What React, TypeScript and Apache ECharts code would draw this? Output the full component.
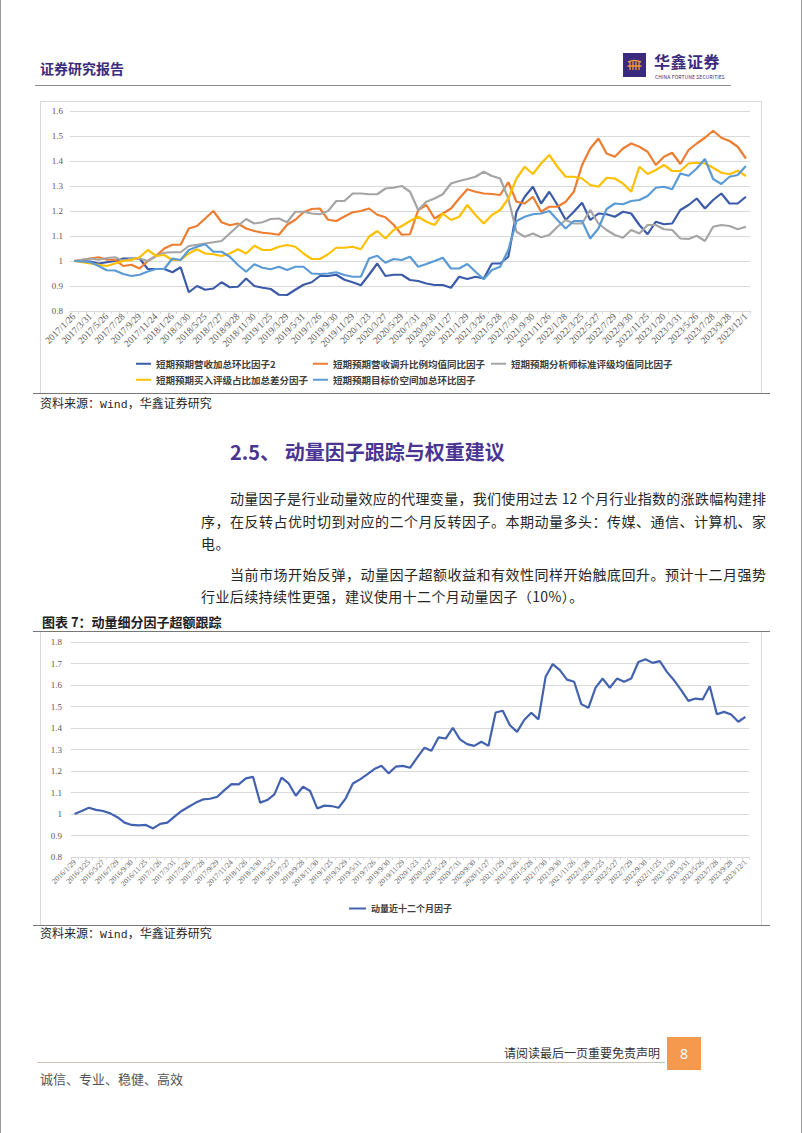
import React, { useEffect, useRef } from "react";
import * as echarts from "echarts";

// ---------- data ----------
const DATES = [
  "2016/1/29","2016/2/29","2016/3/25","2016/4/29","2016/5/27","2016/6/30","2016/7/29","2016/8/31","2016/9/30","2016/10/28","2016/11/25","2016/12/30",
  "2017/1/26","2017/2/28","2017/3/31","2017/4/28","2017/5/26","2017/6/30","2017/7/28","2017/8/31","2017/9/29","2017/10/31","2017/11/24","2017/12/29",
  "2018/1/26","2018/2/28","2018/3/30","2018/4/27","2018/5/25","2018/6/29","2018/7/27","2018/8/31","2018/9/28","2018/10/31","2018/11/30","2018/12/28",
  "2019/1/25","2019/2/28","2019/3/29","2019/4/30","2019/5/31","2019/6/28","2019/7/26","2019/8/30","2019/9/30","2019/10/31","2019/11/29","2019/12/31",
  "2020/1/23","2020/2/28","2020/3/27","2020/4/30","2020/5/29","2020/6/30","2020/7/31","2020/8/31","2020/9/30","2020/10/30","2020/11/27","2020/12/31",
  "2021/1/29","2021/2/26","2021/3/26","2021/4/30","2021/5/28","2021/6/30","2021/7/30","2021/8/31","2021/9/30","2021/10/29","2021/11/26","2021/12/31",
  "2022/1/28","2022/2/28","2022/3/25","2022/4/29","2022/5/27","2022/6/30","2022/7/29","2022/8/31","2022/9/30","2022/10/31","2022/11/25","2022/12/30",
  "2023/1/20","2023/2/28","2023/3/31","2023/4/28","2023/5/26","2023/6/30","2023/7/28","2023/8/31","2023/9/28","2023/10/31","2023/12/1",
];
const TOP_CATEGORIES = DATES.slice(12);

const NAME1 = "短期预期营收加总环比因子2";
const NAME2 = "短期预期营收调升比例均值同比因子";
const NAME3 = "短期预期分析师标准评级均值同比因子";
const NAME4 = "短期预期买入评级占比加总差分因子";
const NAME5 = "短期预期目标价空间加总环比因子";
const MOM_NAME = "动量近十二个月因子";

const S1 = [
  1.0, 1.0, 0.998, 0.99, 0.995, 1.0, 1.01, 1.01, 1.01, 0.968,
  0.968, 0.968, 0.955, 0.975, 0.875, 0.9, 0.885, 0.89, 0.915, 0.895,
  0.897, 0.93, 0.9, 0.893, 0.888, 0.865, 0.864, 0.885, 0.905, 0.915,
  0.94, 0.94, 0.945, 0.925, 0.915, 0.903, 0.945, 0.99, 0.94, 0.945,
  0.945, 0.924, 0.92, 0.91, 0.904, 0.904, 0.893, 0.937, 0.928, 0.937,
  0.93, 0.99, 0.99, 1.017, 1.197, 1.257, 1.297, 1.23, 1.277, 1.224,
  1.164, 1.197, 1.233, 1.164, 1.19, 1.187, 1.177, 1.197, 1.19, 1.144,
  1.107, 1.157, 1.147, 1.15, 1.204, 1.224, 1.25, 1.21, 1.244, 1.27,
  1.23, 1.23, 1.257,
];
const S2 = [
  1.0, 1.005, 1.01, 1.015, 1.005, 1.005, 0.98, 0.985, 0.97,
  1.0, 1.02, 1.05, 1.065, 1.065, 1.13, 1.14, 1.17, 1.2, 1.155, 1.143,
  1.15, 1.13, 1.12, 1.113, 1.11, 1.105, 1.145, 1.165, 1.195, 1.208,
  1.21, 1.165, 1.16, 1.178, 1.195, 1.2, 1.21, 1.185, 1.175, 1.145,
  1.105, 1.107,
  1.204, 1.224, 1.17, 1.19, 1.21, 1.25, 1.287, 1.277, 1.27, 1.268,
  1.264, 1.315, 1.237, 1.23, 1.257, 1.197, 1.217, 1.217, 1.237, 1.277,
  1.384, 1.45, 1.49, 1.43, 1.417, 1.45, 1.47, 1.457, 1.437, 1.384,
  1.417, 1.433, 1.388, 1.444, 1.47, 1.493, 1.521, 1.493, 1.48, 1.457,
  1.41,
];
const S3 = [
  1.0, 1.005, 1.01, 1.005, 1.012, 1.015, 1.0, 1.01, 1.01, 1.0,
  1.02, 1.033, 1.035, 1.035, 1.06, 1.065, 1.07, 1.075, 1.08, 1.11,
  1.14, 1.168, 1.15, 1.155, 1.168, 1.17, 1.155, 1.197, 1.197, 1.19,
  1.187, 1.2, 1.24, 1.24, 1.27, 1.27, 1.267, 1.267, 1.29, 1.293,
  1.3, 1.277,
  1.204, 1.237, 1.25, 1.267, 1.31, 1.32, 1.328, 1.337, 1.357, 1.34,
  1.33, 1.25, 1.117, 1.097, 1.11, 1.095, 1.104, 1.137, 1.164, 1.15,
  1.15, 1.204, 1.15, 1.124, 1.104, 1.093, 1.124, 1.11, 1.144, 1.144,
  1.127, 1.124, 1.09, 1.088, 1.101, 1.08, 1.137, 1.144, 1.14, 1.127,
  1.137,
];
const S4 = [
  1.0, 0.995, 0.99, 0.985, 0.98, 0.99, 1.0, 1.004, 1.015, 1.044,
  1.02, 1.024, 1.004, 1.004, 1.03, 1.047, 1.03, 1.027, 1.02, 1.03,
  1.047, 1.03, 1.061, 1.044, 1.044, 1.057, 1.064, 1.057, 1.03, 1.008,
  1.008, 1.027, 1.053, 1.053, 1.057, 1.047, 1.097, 1.12, 1.09, 1.124,
  1.14, 1.16,
  1.177, 1.157, 1.144, 1.19, 1.164, 1.177, 1.224, 1.184, 1.15, 1.184,
  1.204, 1.25, 1.33, 1.377, 1.348, 1.39, 1.424, 1.377, 1.337, 1.337,
  1.33, 1.304, 1.297, 1.333, 1.33, 1.31, 1.277, 1.377, 1.348, 1.364,
  1.384, 1.36, 1.36, 1.39, 1.393, 1.39, 1.373, 1.353, 1.347, 1.361,
  1.34,
];
const S5 = [
  1.0, 0.998, 0.995, 0.98, 0.963, 0.962, 0.948, 0.94, 0.945, 0.958,
  0.968, 0.968, 1.01, 1.004, 1.044, 1.057, 1.067, 1.037, 1.037, 1.017,
  0.984, 0.957, 0.987, 0.973, 0.967, 0.977, 0.964, 0.977, 0.977, 0.95,
  0.948, 0.95, 0.955, 0.944, 0.937, 0.937, 1.01, 1.021, 0.993, 1.008,
  1.004, 1.017,
  0.977, 0.988, 1.0, 1.013, 0.97, 0.97, 0.988, 0.957, 0.927, 0.964,
  0.977, 1.044, 1.16, 1.177, 1.187, 1.19, 1.2, 1.164, 1.13, 1.16,
  1.16, 1.09, 1.13, 1.208, 1.23, 1.227, 1.24, 1.244, 1.26, 1.293,
  1.297, 1.287, 1.35, 1.341, 1.37, 1.408, 1.328, 1.308, 1.337, 1.344,
  1.38,
];
const MOM = [
  1.0, 1.014, 1.029, 1.019, 1.014, 1.003, 0.985, 0.96, 0.949, 0.947,
  0.949, 0.933, 0.954, 0.96, 0.988, 1.014, 1.034, 1.053, 1.068, 1.071,
  1.08, 1.111, 1.139, 1.138, 1.166, 1.173, 1.053, 1.065, 1.091, 1.169,
  1.142, 1.085, 1.127, 1.107, 1.026, 1.039, 1.037, 1.029, 1.073, 1.142,
  1.161, 1.184, 1.209, 1.224, 1.189, 1.22, 1.224, 1.215, 1.262, 1.308,
  1.294, 1.356, 1.351, 1.401, 1.347, 1.325, 1.317, 1.336, 1.317, 1.472,
  1.48, 1.413, 1.382, 1.437, 1.471, 1.44, 1.638, 1.697, 1.669, 1.625,
  1.615, 1.511, 1.494, 1.588, 1.63, 1.587, 1.63, 1.615, 1.63, 1.707,
  1.72, 1.703, 1.711, 1.661, 1.622, 1.576, 1.526, 1.537, 1.533, 1.594,
  1.464, 1.475, 1.463, 1.429, 1.452,
];

// ---------- styles ----------
const CJK = "'Noto Sans CJK SC', 'Noto Sans', sans-serif";
const SERIF = "'Liberation Serif', 'DejaVu Serif', serif";
const MONO = "'Liberation Mono', 'DejaVu Sans Mono', monospace";
const GRID_COLOR = "#d9d9d9";
const LABEL_COLOR = "#595959";
const PURPLE = "#3b2b7e";

const COLORS = ["#3b5ba9", "#ed7d31", "#a5a5a5", "#ffc000", "#5b9bd5"];

function lineSeries(name: string, data: number[], color: string) {
  return {
    name,
    type: "line",
    data,
    symbol: "none",
    lineStyle: { color, width: 2.2 },
    itemStyle: { color },
  };
}

function legendAt(name: string, left: number, top: number, fontSize: number, w: number) {
  return {
    data: [name],
    left,
    top,
    padding: 0,
    icon: "rect",
    itemWidth: w,
    itemHeight: 2,
    textStyle: { fontSize, fontWeight: "bold", color: "#404040", fontFamily: CJK },
  };
}

const topOption = {
  animation: false,
  grid: { left: 30, right: 12, top: 10, bottom: 82 },
  xAxis: {
    type: "category",
    data: TOP_CATEGORIES,
    boundaryGap: true,
    axisLine: { lineStyle: { color: GRID_COLOR } },
    axisTick: { show: true, interval: 0, length: 3, lineStyle: { color: GRID_COLOR } },
    axisLabel: { interval: 1, rotate: 45, fontSize: 9.5, fontFamily: SERIF, color: LABEL_COLOR, margin: 4 },
  },
  yAxis: {
    type: "value",
    min: 0.8,
    max: 1.6,
    interval: 0.1,
    axisLine: { show: false },
    axisTick: { show: false },
    axisLabel: { fontSize: 9, fontFamily: SERIF, color: LABEL_COLOR, margin: 7 },
    splitLine: { lineStyle: { color: GRID_COLOR } },
  },
  legend: [
    legendAt(NAME1, 96, 258, 9.5, 15),
    legendAt(NAME2, 273, 258, 9.5, 15),
    legendAt(NAME3, 451, 258, 9.5, 15),
    legendAt(NAME4, 96, 274, 9.5, 15),
    legendAt(NAME5, 273, 274, 9.5, 15),
  ],
  series: [
    lineSeries(NAME1, S1, COLORS[0]),
    lineSeries(NAME2, S2, COLORS[1]),
    lineSeries(NAME3, S3, COLORS[2]),
    lineSeries(NAME4, S4, COLORS[3]),
    lineSeries(NAME5, S5, COLORS[4]),
  ],
};

const bottomOption = {
  animation: false,
  grid: { left: 31, right: 13, top: 10, bottom: 68 },
  xAxis: {
    type: "category",
    data: DATES,
    boundaryGap: true,
    axisLine: { lineStyle: { color: GRID_COLOR } },
    axisTick: { show: true, interval: 0, length: 3, lineStyle: { color: GRID_COLOR } },
    axisLabel: { interval: 1, rotate: 45, fontSize: 7.5, fontFamily: SERIF, color: LABEL_COLOR, margin: 4 },
  },
  yAxis: {
    type: "value",
    min: 0.8,
    max: 1.8,
    interval: 0.1,
    axisLine: { show: false },
    axisTick: { show: false },
    axisLabel: { fontSize: 9, fontFamily: SERIF, color: LABEL_COLOR, margin: 9 },
    splitLine: { lineStyle: { color: GRID_COLOR } },
  },
  legend: [legendAt(MOM_NAME, 309, 272, 9, 17)],
  series: [lineSeries(MOM_NAME, MOM, "#4262b0")],
};

function Chart({ option, left, top, width, height }: any) {
  const ref = useRef<HTMLDivElement>(null);
  useEffect(() => {
    const chart = echarts.init(ref.current as HTMLDivElement, undefined, { renderer: "svg" });
    chart.setOption(option as any);
    return () => chart.dispose();
  }, []);
  return <div ref={ref} style={{ position: "absolute", left, top, width, height }} />;
}

function T({ x, y, size, children, color = "#222", weight = 400, style = {}, lh }: any) {
  const h = lh ?? Math.round(size * 1.5);
  return (
    <div
      style={{
        position: "absolute",
        left: x,
        top: y - h / 2,
        height: h,
        lineHeight: h + "px",
        fontSize: size,
        color,
        fontWeight: weight,
        fontFamily: CJK,
        whiteSpace: "nowrap",
        ...style,
      }}
    >
      {children}
    </div>
  );
}

function Rule({ x, y, w, h = 1, color }: any) {
  return <div style={{ position: "absolute", left: x, top: y, width: w, height: h, background: color }} />;
}

function JLine({ x, y, w, children, justify = true }: any) {
  return (
    <T
      x={x}
      y={y}
      size={14}
      color="#262626"
      style={
        justify
          ? { width: w, textAlign: "justify", textAlignLast: "justify" }
          : { letterSpacing: "0.4px" }
      }
    >
      {children}
    </T>
  );
}

function Source({ y }: any) {
  return (
    <T x={40} y={y} size={12} color="#262626">
      资料来源：<span style={{ fontFamily: MONO, fontSize: 11.5 }}>Wind</span>，华鑫证券研究
    </T>
  );
}

export default function App() {
  return (
    <div
      style={{
        position: "absolute",
        left: 0,
        top: 0,
        width: 802,
        height: 1133,
        background: "#fff",
        overflow: "hidden",
        fontFamily: CJK,
      }}
    >
      {/* page edges */}
      <Rule x={0} y={0} w={1} h={1133} color="#9a9a9a" />
      <Rule x={801} y={0} w={1} h={1133} color="#9a9a9a" />

      {/* header */}
      <T x={40} y={68} size={14} color={PURPLE} weight={700}>证券研究报告</T>
      <Rule x={35} y={85} w={696} h={1} color="#8a8a8a" />
      <div style={{ position: "absolute", left: 623, top: 53, width: 23, height: 24, background: PURPLE }}>
        <svg width="23" height="24" viewBox="0 0 23 24">
          <path d="M5 9 Q11.5 6 18 9" stroke="#f29a3a" strokeWidth="1.4" fill="none" />
          <path d="M7 9 V17 M10 8.5 V17 M13 8.5 V17 M16 9 V17 M4.5 13 H18.5" stroke="#f29a3a" strokeWidth="1.3" fill="none" />
        </svg>
      </div>
      <T x={654} y={60.5} size={16} lh={16} color={PURPLE} weight={700} style={{ letterSpacing: "0.5px" }}>华鑫证券</T>
      <T x={655} y={76.5} size={5} lh={5} color={PURPLE} style={{ letterSpacing: "0.1px" }}>CHINA FORTUNE SECURITIES</T>

      {/* top chart */}
      <Chart option={topOption} left={40} top={101} width={722} height={292} />
      <div
        style={{
          position: "absolute",
          left: 40,
          top: 101,
          width: 720,
          height: 292,
          borderLeft: "1px solid #d9d9d9",
          borderTop: "1px solid #d9d9d9",
          borderRight: "1px solid #d9d9d9",
          pointerEvents: "none",
        }}
      />
      <Rule x={33} y={392.5} w={737} h={1.5} color="#777" />
      <Source y={403} />

      {/* section text */}
      <T x={230} y={452} size={20} color="#4a3592" weight={700}>2.5、 动量因子跟踪与权重建议</T>
      <JLine x={230} y={498} w={536}>动量因子是行业动量效应的代理变量，我们使用过去 12 个月行业指数的涨跌幅构建排</JLine>
      <JLine x={201} y={521} w={565}>序，在反转占优时切到对应的二个月反转因子。本期动量多头：传媒、通信、计算机、家</JLine>
      <JLine x={201} y={543} justify={false}>电。</JLine>
      <JLine x={230} y={574} w={536}>当前市场开始反弹，动量因子超额收益和有效性同样开始触底回升。预计十二月强势</JLine>
      <JLine x={201} y={596} justify={false}>行业后续持续性更强，建议使用十二个月动量因子（10%）。</JLine>

      {/* bottom chart */}
      <T x={42} y={622} size={13} color="#222" weight={700}>图表 7：动量细分因子超额跟踪</T>
      <Chart option={bottomOption} left={40} top={632} width={722} height={293} />
      <div
        style={{
          position: "absolute",
          left: 40,
          top: 632,
          width: 720,
          height: 293,
          borderLeft: "1px solid #d9d9d9",
          borderRight: "1px solid #d9d9d9",
          pointerEvents: "none",
        }}
      />
      <Rule x={33} y={630.5} w={737} h={1.5} color="#777" />
      <Rule x={33} y={924.5} w={737} h={1.5} color="#777" />
      <Source y={933} />

      {/* footer */}
      <T x={504} y={1053} size={12} color="#333">请阅读最后一页重要免责声明</T>
      <Rule x={37} y={1062} w={628} h={1} color="#c9c3b5" />
      <div
        style={{
          position: "absolute",
          left: 667,
          top: 1037,
          width: 34,
          height: 33,
          background: "#f4994e",
          color: "#fff",
          fontSize: 14,
          lineHeight: "33px",
          textAlign: "center",
          fontFamily: "'Noto Sans', sans-serif",
        }}
      >
        8
      </div>
      <T x={40} y={1079} size={13} color="#555">诚信、专业、稳健、高效</T>
    </div>
  );
}
